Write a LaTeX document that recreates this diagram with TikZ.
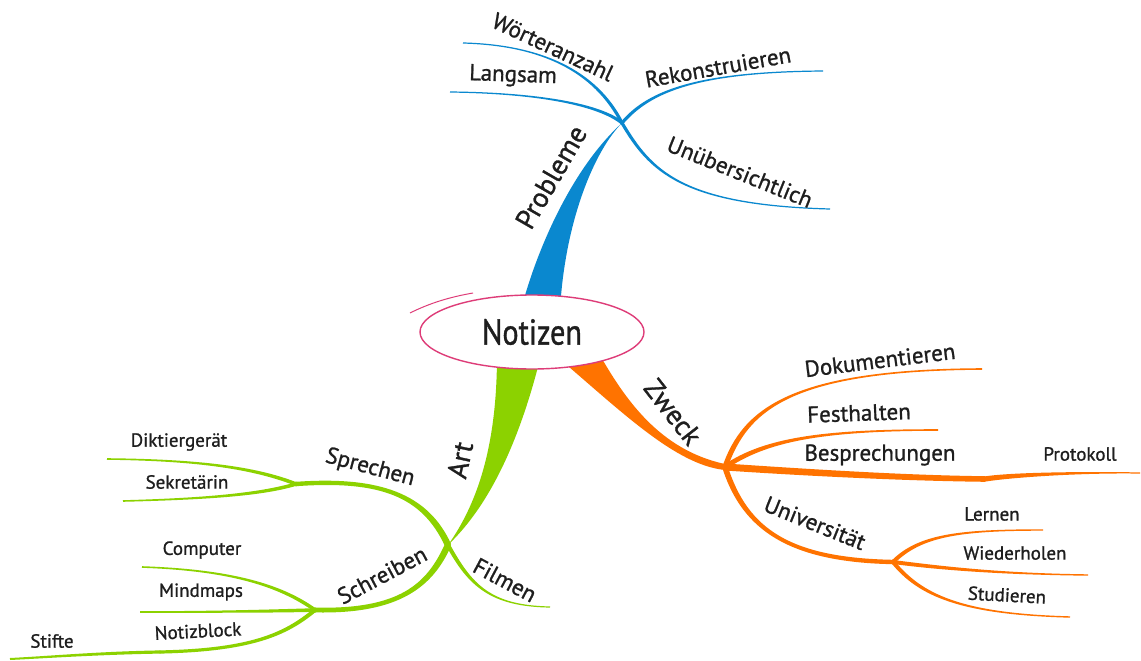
\documentclass[tikz,border=0pt]{standalone}
\usepackage{fontspec}
\setmainfont{PT Sans}[FakeBold=1.0]
\newfontfamily\notfont{PT Sans}[FakeBold=1.0,FakeStretch=0.84]
\usetikzlibrary{shapes.geometric,calc}
\definecolor{mblue}{RGB}{10,136,207}
\definecolor{mgreen}{RGB}{140,210,0}
\definecolor{morange}{RGB}{255,115,0}
\definecolor{mpink}{RGB}{222,60,120}
\definecolor{txt}{RGB}{30,30,30}
% tapered branch: #1 start, #2 #3 controls, #4 end, #5 half width at start, #6 half width at end, #7 colour
\newcommand{\tbranch}[7]{%
  \path ($(#1)!#5!90:(#2)$) coordinate (tA0) ($(#1)!#5!-90:(#2)$) coordinate (tB0)
    ($(#4)!#6!-90:(#3)$) coordinate (tA3) ($(#4)!#6!90:(#3)$) coordinate (tB3);
  \path ($(#2)+(tA0)-(#1)$) coordinate (tA1) ($(#2)+(tB0)-(#1)$) coordinate (tB1)
    ($(#3)+(tA3)-(#4)$) coordinate (tA2) ($(#3)+(tB3)-(#4)$) coordinate (tB2);
  \fill[#7] (tA0) .. controls (tA1) and (tA2) .. (tA3) -- (tB3)
    .. controls (tB2) and (tB1) .. (tB0) -- cycle;}
\begin{document}
\begin{tikzpicture}[x=1pt,y=-1pt,
  lbl/.style={text=txt, inner sep=0pt, font=\fontsize{23}{26}\selectfont},
  lblbig/.style={text=txt, inner sep=0pt, font=\fontsize{28}{32}\selectfont},
  lblsmall/.style={text=txt, inner sep=0pt, font=\fontsize{19}{22}\selectfont}]
\useasboundingbox (0,0) rectangle (1141,661);
\fill[white] (0,0) rectangle (1141,661);

% junctions and ends
\coordinate (jb) at (622,123);
\coordinate (jg) at (448,545);
\coordinate (jsp) at (296,484);
\coordinate (jsc) at (315,610);
\coordinate (jo) at (725,467);
\coordinate (ju) at (893,562);
\coordinate (eW) at (463,43);
\coordinate (eL) at (450,92);
\coordinate (eR) at (823,71);
\coordinate (eU) at (830,209);
\coordinate (eD) at (107,459);
\coordinate (eS) at (123,501);
\coordinate (eC) at (142,567);
\coordinate (eM) at (140,612);
\coordinate (mN) at (160,652);
\coordinate (eN) at (10,659);
\coordinate (eF) at (550,607);
\coordinate (eDo) at (982,369);
\coordinate (eFe) at (938,430);
\coordinate (eBm) at (985,479);
\coordinate (eBe) at (1140,473);
\coordinate (eLe) at (1043,530);
\coordinate (eWi) at (1088,575);
\coordinate (eSt) at (1070,617);

% trunks
\fill[mblue] (521,310) .. controls (535,255) and (570,170) .. (jb)
  .. controls (595,150) and (565,220) .. (560,310) -- cycle;
\fill[mgreen] (497,355) .. controls (497,440) and (480,500) .. (jg)
  .. controls (490,505) and (520,440) .. (541,355) -- cycle;
\fill[morange] (597,350) .. controls (625,400) and (660,450) .. (725,464)
  -- (725,470) .. controls (675,465) and (620,410) .. (555,355) -- cycle;

% blue branches
\tbranch{eW}{540,45}{595,70}{jb}{0.6pt}{1.6pt}{mblue}
\tbranch{eL}{540,93}{600,105}{jb}{0.6pt}{1.6pt}{mblue}
\tbranch{jb}{650,90}{700,72}{eR}{1.6pt}{0.6pt}{mblue}
\tbranch{jb}{650,170}{680,205}{eU}{1.6pt}{0.6pt}{mblue}
\fill[mblue] (jb) circle (1.8pt);

% green branches
\tbranch{jg}{425,495}{380,478}{jsp}{3.2pt}{2.2pt}{mgreen}
\tbranch{eD}{200,460}{255,468}{jsp}{0.8pt}{1.8pt}{mgreen}
\tbranch{eS}{200,499}{260,495}{jsp}{0.8pt}{1.8pt}{mgreen}
\tbranch{jg}{430,585}{400,612}{jsc}{3.2pt}{2.4pt}{mgreen}
\tbranch{eC}{230,570}{280,585}{jsc}{0.8pt}{1.8pt}{mgreen}
\tbranch{eM}{220,612}{280,611}{jsc}{0.8pt}{1.8pt}{mgreen}
\tbranch{jsc}{285,635}{250,650}{mN}{2pt}{1.6pt}{mgreen}
\tbranch{mN}{100,653}{50,657}{eN}{1.6pt}{1pt}{mgreen}
\tbranch{jg}{470,585}{490,606}{eF}{2pt}{0.6pt}{mgreen}
\fill[mgreen] (jg) circle (3pt) (jsp) circle (2.4pt) (jsc) circle (2.6pt) (mN) circle (1.6pt);

% orange branches
\tbranch{jo}{745,410}{790,370}{eDo}{2.6pt}{0.8pt}{morange}
\tbranch{jo}{765,440}{820,430}{eFe}{2.4pt}{0.8pt}{morange}
\tbranch{jo}{800,472}{900,478}{eBm}{3.5pt}{2.8pt}{morange}
\tbranch{eBm}{1010,475}{1080,472}{eBe}{2.6pt}{0.6pt}{morange}
\tbranch{jo}{745,530}{790,560}{ju}{2.8pt}{2.2pt}{morange}
\tbranch{ju}{920,535}{960,530}{eLe}{2pt}{0.7pt}{morange}
\tbranch{ju}{940,568}{1000,574}{eWi}{2pt}{0.7pt}{morange}
\tbranch{ju}{920,595}{960,614}{eSt}{2pt}{0.7pt}{morange}
\fill[morange] (jo) circle (3.2pt) (ju) circle (2.4pt) (eBm) circle (2.6pt);

% central node
\node[draw=mpink, fill=white, line width=1.4pt, ellipse, minimum width=224pt, minimum height=74pt,
  inner sep=0pt, text=txt, font=\notfont\fontsize{36}{40}\selectfont] (center) at (532,332) {Notizen};
\coordinate (s1) at (410,313);
\coordinate (s2) at (473,293);
\draw[mpink, line width=1pt] (s1) .. controls (430,303) and (450,297) .. (s2);

% labels
\node[lblbig, rotate=60] (probleme) at (551,177) {Probleme};
\node[lblbig, rotate=78] (art) at (460,460) {Art};
\node[lblbig, rotate=-52] (zweck) at (673,412) {Zweck};

\node[lbl, rotate=-25] (woerter) at (553,47) {Wörteranzahl};
\node[lbl, rotate=-2] (langsam) at (513,76) {Langsam};
\node[lbl, rotate=10] (rekon) at (718,67) {Rekonstruieren};
\node[lbl, rotate=-22] (unueb) at (740,172) {Unübersichtlich};

\node[lbl, rotate=-15] (sprechen) at (370,468) {Sprechen};
\node[lbl, rotate=28] (schreiben) at (382,575) {Schreiben};
\node[lbl, rotate=-28] (filmen) at (505,580) {Filmen};
\node[lblsmall] (dikt) at (179,442) {Diktiergerät};
\node[lblsmall] (sekr) at (187,482) {Sekretärin};
\node[lblsmall] (comp) at (202,550) {Computer};
\node[lblsmall] (mind) at (201,592) {Mindmaps};
\node[lblsmall, rotate=3] (notiz) at (198,631) {Notizblock};
\node[lblsmall] (stifte) at (52,641) {Stifte};

\node[lbl, rotate=7] (doku) at (880,360) {Dokumentieren};
\node[lbl, rotate=2] (fest) at (859,413) {Festhalten};
\node[lbl] (bespr) at (880,455) {Besprechungen};
\node[lblsmall] (proto) at (1080,454) {Protokoll};
\node[lbl, rotate=-22] (uni) at (815,523) {Universität};
\node[lblsmall] (lernen) at (992,514) {Lernen};
\node[lblsmall] (wieder) at (1015,553) {Wiederholen};
\node[lblsmall, rotate=-3] (stud) at (1007,595) {Studieren};
\end{tikzpicture}
\end{document}
